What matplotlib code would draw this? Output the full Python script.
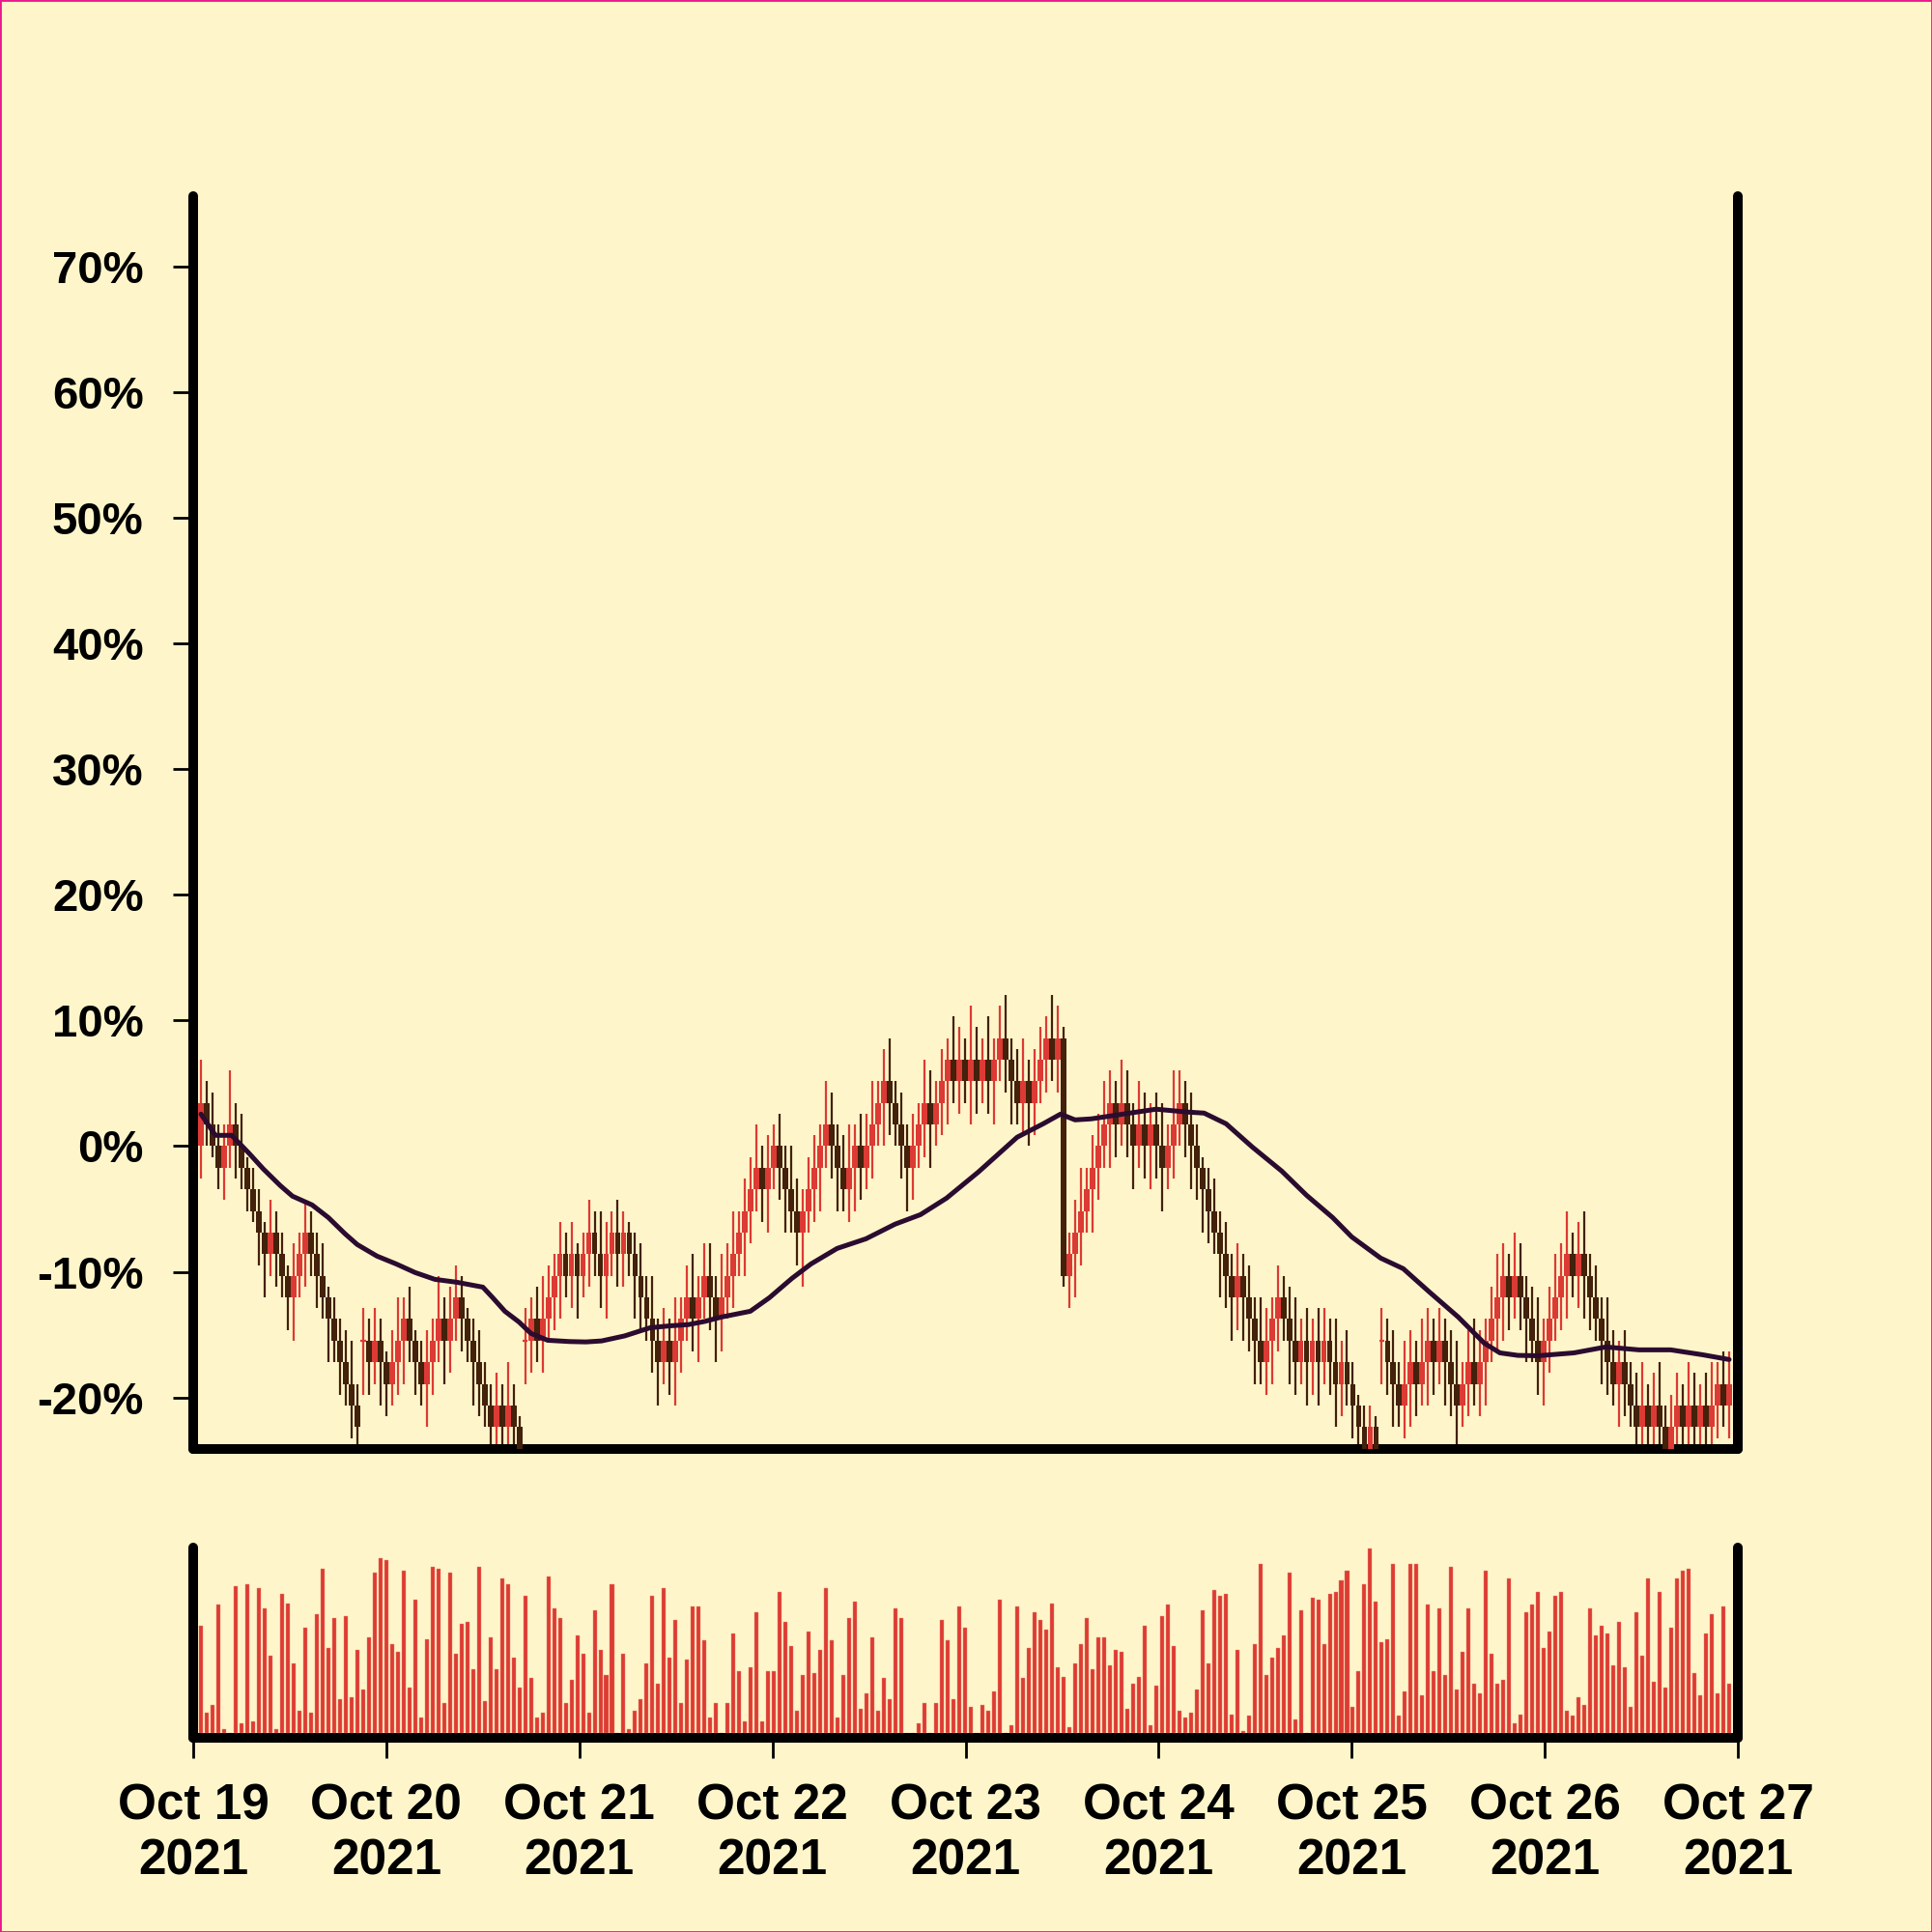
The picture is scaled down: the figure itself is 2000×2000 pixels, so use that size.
import numpy as np
import pandas as pd
import matplotlib
matplotlib.use("Agg")
import matplotlib.pyplot as plt
import matplotlib.dates as mdates
from matplotlib.patches import Rectangle
from matplotlib.ticker import FuncFormatter

# candles: price moves in ticks of about 1.72 % of the starting price
tick_pct = 1.72
first_open = 0
close_ticks = [
    2, 1, 0, -1, 0, 1, 0, -1, -2, -3,
    -4, -5, -4, -5, -6, -7, -6, -5, -4, -5,
    -6, -7, -8, -9, -10, -11, -12, -13, -9, -10,
    -9, -10, -11, -10, -9, -8, -9, -10, -11, -10,
    -9, -8, -9, -8, -7, -8, -9, -10, -11, -12,
    -13, -12, -13, -12, -13, -14, -9, -8, -9, -8,
    -7, -6, -5, -6, -5, -6, -5, -4, -5, -6,
    -5, -4, -5, -4, -5, -6, -7, -8, -9, -10,
    -9, -10, -9, -8, -7, -8, -7, -6, -7, -8,
    -7, -6, -5, -4, -3, -2, -1, -2, -1, 0,
    -1, -2, -3, -4, -3, -2, -1, 0, 1, 0,
    -1, -2, -1, 0, -1, 0, 1, 2, 3, 2,
    1, 0, -1, 0, 1, 2, 1, 2, 3, 4,
    3, 4, 3, 4, 3, 4, 3, 4, 5, 4,
    3, 2, 3, 2, 3, 4, 5, 4, 5, -6,
    -5, -4, -3, -2, -1, 0, 1, 2, 1, 2,
    1, 0, 1, 0, 1, 0, -1, 0, 1, 2,
    1, 0, -1, -2, -3, -4, -5, -6, -7, -6,
    -7, -8, -9, -10, -9, -8, -7, -8, -9, -10,
    -9, -10, -9, -10, -9, -10, -11, -10, -11, -12,
    -13, -14, -13, -14, -9, -10, -11, -12, -11, -10,
    -11, -10, -9, -10, -9, -10, -11, -12, -11, -10,
    -11, -10, -9, -8, -7, -6, -7, -6, -7, -8,
    -9, -10, -9, -8, -7, -6, -5, -6, -5, -6,
    -7, -8, -9, -10, -11, -10, -11, -12, -13, -12,
    -13, -12, -13, -14, -13, -12, -13, -12, -13, -12,
    -13, -12, -11, -12, -11,
]
# candles that open away from the previous close (gaps / dojis)
gap_open_ticks = {28: -9, 56: -9, 204: -9}

# wick length beyond the body, in half ticks
wick_up = [
    4, 2, 3, 2, 2, 5, 2, 3, 1, 2, 2, 1, 3, 2, 2, 1, 3, 2, 3, 2,
    2, 3, 1, 2, 2, 3, 4, 2, 3, 2, 3, 2, 1, 3, 4, 2, 3, 1, 2, 3,
    2, 4, 2, 3, 3, 2, 1, 2, 3, 2, 2, 3, 2, 4, 2, 1, 3, 2, 3, 4,
    3, 2, 3, 2, 3, 1, 2, 3, 2, 4, 3, 2, 3, 2, 1, 2, 3, 2, 4, 2,
    3, 2, 4, 2, 3, 4, 2, 3, 3, 2, 4, 3, 4, 2, 3, 3, 4, 2, 3, 2,
    3, 2, 4, 3, 2, 3, 3, 2, 4, 3, 2, 3, 4, 2, 3, 3, 4, 2, 3, 4,
    2, 3, 2, 3, 2, 4, 3, 2, 3, 2, 4, 3, 2, 5, 3, 2, 4, 2, 3, 4,
    2, 3, 4, 2, 3, 3, 2, 4, 3, 1, 2, 3, 4, 2, 3, 3, 4, 3, 2, 4,
    3, 2, 4, 3, 2, 3, 4, 2, 5, 3, 2, 3, 2, 1, 2, 3, 2, 3, 2, 3,
    2, 3, 2, 4, 3, 2, 3, 2, 3, 4, 2, 3, 2, 3, 3, 2, 4, 2, 3, 2,
    1, 2, 2, 1, 3, 2, 3, 2, 4, 3, 2, 4, 3, 2, 3, 2, 3, 4, 2, 3,
    4, 3, 2, 3, 4, 3, 2, 4, 3, 2, 3, 4, 2, 3, 4, 3, 4, 2, 3, 4,
    2, 3, 2, 4, 3, 2, 3, 2, 3, 4, 2, 3, 4, 2, 3, 3, 2, 4, 3, 2,
    3, 4, 2, 3, 3,
]
wick_dn = [
    3, 2, 1, 2, 3, 2, 3, 2, 2, 1, 3, 4, 2, 3, 2, 3, 4, 2, 3, 2,
    3, 2, 4, 2, 3, 2, 3, 2, 5, 3, 2, 4, 3, 2, 3, 4, 2, 3, 2, 4,
    3, 2, 4, 3, 2, 3, 2, 4, 3, 2, 3, 2, 3, 2, 2, 1, 4, 3, 2, 3,
    2, 3, 4, 2, 3, 4, 2, 3, 2, 3, 4, 2, 3, 3, 2, 4, 3, 2, 3, 4,
    2, 3, 4, 3, 2, 3, 4, 2, 3, 4, 3, 2, 3, 2, 4, 3, 2, 3, 4, 2,
    3, 4, 2, 3, 5, 2, 3, 4, 2, 3, 4, 2, 3, 4, 3, 2, 3, 2, 4, 3,
    2, 3, 4, 3, 2, 3, 4, 2, 3, 4, 2, 3, 2, 4, 3, 2, 3, 4, 2, 3,
    4, 2, 3, 4, 3, 2, 3, 2, 3, 1, 3, 4, 3, 2, 4, 3, 2, 4, 3, 2,
    3, 4, 2, 3, 4, 3, 4, 2, 3, 2, 3, 4, 3, 4, 3, 2, 4, 3, 4, 3,
    4, 3, 4, 2, 3, 4, 3, 2, 4, 3, 2, 4, 3, 4, 2, 3, 4, 3, 2, 3,
    2, 1, 2, 1, 4, 3, 4, 2, 3, 4, 3, 2, 4, 3, 2, 4, 3, 4, 2, 3,
    2, 3, 4, 2, 3, 4, 3, 2, 3, 4, 2, 3, 4, 3, 2, 3, 4, 2, 3, 4,
    3, 2, 4, 3, 2, 4, 3, 2, 4, 3, 2, 3, 4, 2, 3, 4, 2, 3, 4, 3,
    2, 4, 3, 2, 3,
]

volume = [
    57, 11, 15, 68, 2, 0, 78, 5, 79, 6,
    77, 66, 41, 2, 74, 69, 37, 12, 56, 11,
    63, 87, 45, 61, 18, 62, 19, 44, 23, 51,
    85, 93, 92, 47, 43, 86, 24, 71, 8, 50,
    88, 87, 16, 85, 42, 58, 59, 34, 88, 17,
    51, 34, 82, 79, 40, 24, 73, 29, 8, 11,
    83, 66, 61, 16, 28, 52, 42, 11, 65, 44,
    31, 79, 0, 42, 2, 12, 18, 37, 73, 26,
    77, 40, 60, 16, 39, 67, 67, 49, 8, 16,
    0, 16, 53, 33, 6, 35, 64, 6, 33, 33,
    75, 59, 46, 12, 31, 54, 32, 44, 77, 49,
    8, 31, 61, 70, 13, 21, 51, 12, 29, 18,
    66, 61, 0, 0, 5, 16, 0, 16, 60, 49,
    18, 67, 56, 14, 0, 15, 12, 22, 71, 0,
    4, 67, 29, 45, 64, 60, 55, 69, 35, 30,
    3, 37, 47, 61, 34, 51, 51, 36, 44, 43,
    13, 26, 30, 57, 4, 25, 62, 68, 46, 12,
    8, 11, 23, 65, 37, 76, 73, 74, 10, 44,
    1, 9, 47, 90, 31, 40, 45, 52, 85, 7,
    65, 0, 72, 71, 47, 74, 75, 81, 86, 14,
    33, 79, 98, 70, 48, 50, 90, 9, 22, 90,
    90, 20, 68, 33, 66, 31, 88, 23, 43, 66,
    26, 21, 86, 42, 26, 28, 82, 5, 10, 64,
    68, 75, 45, 54, 73, 75, 12, 9, 19, 15,
    66, 52, 57, 53, 36, 59, 35, 14, 64, 41,
    82, 27, 75, 24, 56, 82, 86, 87, 32, 20,
    53, 63, 21, 67, 26,
]

# moving average at these candle numbers
ma_index = [0, 2.5, 5.3, 8.2, 10.8, 13.7, 15.8, 19.2, 22, 24.9, 27, 30.4, 33.7, 37,
            40.4, 44.2, 48.7, 50.4, 52.5, 54.9, 57, 59.9, 63.7, 66.5, 69.2, 73.2,
            77.6, 81, 84.2, 87, 89.9, 94.9, 98.2, 102.1, 105.4, 109.9, 114.9, 119.9,
            124.3, 128.8, 134.3, 141, 145.5, 148.5, 151, 153.8, 159.3, 165, 170.5,
            173.3, 177.1, 181.6, 186.7, 191, 195.5, 198.8, 203.8, 207.7, 212.2,
            217.2, 221.7, 224.4, 227.5, 231, 237.2, 242.7, 248.4, 253.9, 259.4, 264]
ma_pct = [2.55, 0.86, 0.86, -0.52, -1.83, -3.14, -3.98, -4.68, -5.68, -6.98, -7.83,
          -8.75, -9.37, -10.06, -10.6, -10.83, -11.22, -12.06, -13.14, -13.98, -14.9,
          -15.45, -15.55, -15.58, -15.5, -15.1, -14.45, -14.3, -14.2, -13.95, -13.6,
          -13.14, -12.06, -10.52, -9.37, -8.14, -7.37, -6.21, -5.45, -4.14, -2.06,
          0.71, 1.78, 2.55, 2.09, 2.17, 2.55, 2.94, 2.71, 2.63, 1.78, -0.06, -1.98,
          -3.91, -5.68, -7.22, -8.91, -9.75, -11.6, -13.6, -15.68, -16.45, -16.65,
          -16.68, -16.45, -15.98, -16.21, -16.21, -16.6, -16.98]

y_ticks = [-20, -10, 0, 10, 20, 30, 40, 50, 60, 70]

bg = "#fef6ca"
up_col = "#dc3a35"
down_col = "#43210b"
ma_col = "#2b0b30"

n = len(close_ticks)
dates = pd.date_range("2021-10-19 00:58", "2021-10-26 22:55", periods=n)
x = mdates.date2num(dates)
step = x[1] - x[0]

close = np.array(close_ticks, dtype=float) * tick_pct
opens = np.concatenate([[first_open], close_ticks[:-1]]).astype(float) * tick_pct
for k, v in gap_open_ticks.items():
    opens[k] = v * tick_pct
top = np.maximum(opens, close)
bot = np.minimum(opens, close)
high = top + np.array(wick_up) * tick_pct / 2
low = bot - np.array(wick_dn) * tick_pct / 2
colors = np.where(close < opens, down_col, up_col)

plt.rcParams["font.family"] = ["Liberation Sans", "DejaVu Sans"]
plt.rcParams["font.weight"] = "bold"

fig = plt.figure(figsize=(20, 20), dpi=100, facecolor=bg)
ax = fig.add_axes([0.1, 0.25, 0.7995, 0.6485], facecolor=bg)
axv = fig.add_axes([0.1, 0.10075, 0.7995, 0.09825], facecolor=bg)

# candles
ax.vlines(x, low, high, colors=colors, linewidth=1.6, zorder=2)
ax.bar(x, top - bot, bottom=bot, width=step * 0.98, color=colors, linewidth=0, zorder=3)
doji = close == opens
ax.hlines(close[doji], x[doji] - step * 0.45, x[doji] + step * 0.45,
          colors=up_col, linewidth=1.6, zorder=3)

# moving average
ma_x = np.interp(ma_index, np.arange(n), x)
ax.plot(ma_x, ma_pct, color=ma_col, linewidth=3.6, solid_capstyle="round",
        solid_joinstyle="round", zorder=4)

# volume
axv.bar(x, volume, width=step * 0.67, color="#dd3b33", edgecolor="#eb8a78",
        linewidth=0.3)

xmin = mdates.date2num(pd.Timestamp("2021-10-19"))
xmax = mdates.date2num(pd.Timestamp("2021-10-27"))
for a in (ax, axv):
    a.set_xlim(xmin, xmax)
    a.spines["top"].set_visible(False)
    for s in ("left", "right", "bottom"):
        a.spines[s].set_linewidth(7.2)
        a.spines[s].set_capstyle("round")
        a.spines[s].set_color("black")

ax.set_ylim(-24.1, 75.6)
ax.set_yticks(y_ticks)
ax.yaxis.set_major_formatter(FuncFormatter(lambda v, _: f"{v:.0f}%"))
ax.tick_params(axis="y", left=True, right=False, length=15, width=2,
               labelsize=34, pad=22)
ax.tick_params(axis="x", bottom=False, labelbottom=False)

axv.set_ylim(-2.3, 98.5)
axv.set_yticks([])
axv.xaxis.set_major_locator(mdates.DayLocator())
axv.xaxis.set_major_formatter(mdates.DateFormatter("%b %d\n%Y"))
axv.tick_params(axis="x", length=15, width=2, labelsize=37, pad=19)
for lab in axv.get_xticklabels():
    lab.set_linespacing(1.2)
    lab.set_fontweight("bold")
for lab in ax.get_yticklabels():
    lab.set_fontweight("bold")

fig.patches.append(Rectangle((0, 0), 1, 1, transform=fig.transFigure, fill=False,
                             edgecolor="#e8198c", linewidth=2))

fig.savefig("out.png", dpi=100, facecolor=bg)
